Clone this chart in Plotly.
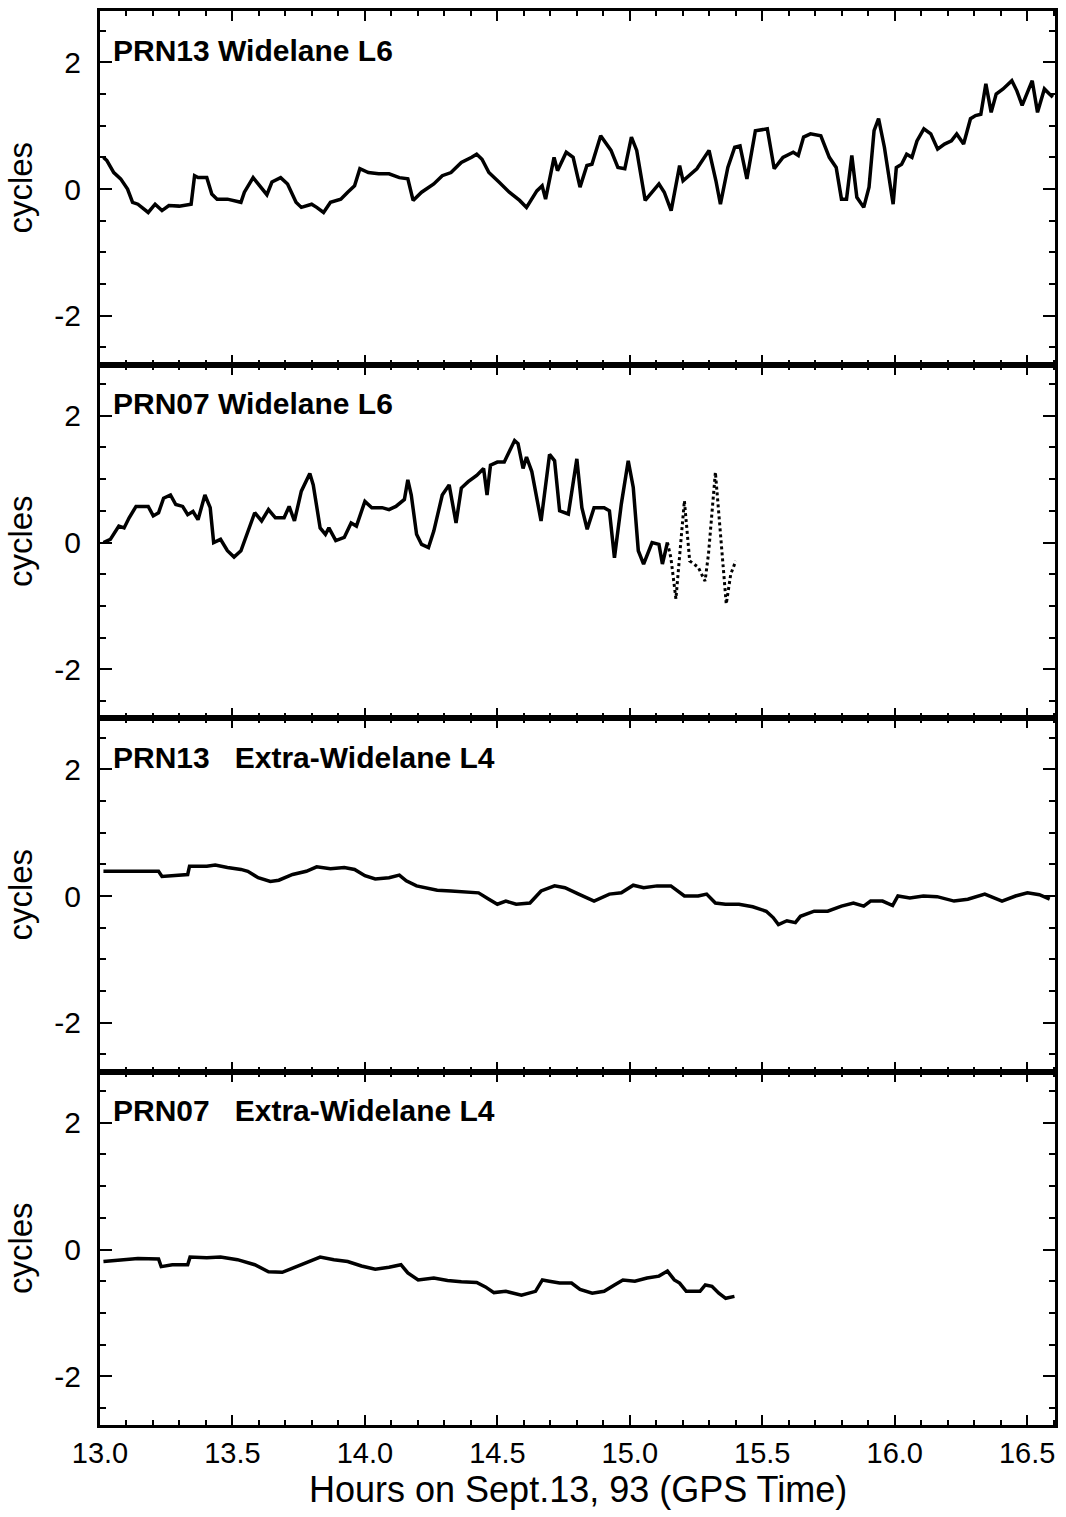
import plotly.graph_objects as go
from plotly.subplots import make_subplots

# Hours (GPS time) and residuals in cycles for each panel
t_prn13_l6 = [13.013, 13.026, 13.052, 13.078, 13.104, 13.123, 13.143, 13.182, 13.208, 13.234,
              13.260, 13.299, 13.344, 13.357, 13.370, 13.403, 13.422, 13.442, 13.481, 13.532,
              13.545, 13.578, 13.597, 13.630, 13.649, 13.682, 13.708, 13.740, 13.760, 13.799,
              13.818, 13.844, 13.870, 13.909, 13.935, 13.961, 13.981, 14.013, 14.052, 14.091,
              14.130, 14.162, 14.182, 14.214, 14.260, 14.292, 14.325, 14.364, 14.403, 14.422,
              14.442, 14.468, 14.506, 14.545, 14.584, 14.610, 14.649, 14.669, 14.682, 14.714,
              14.727, 14.760, 14.786, 14.812, 14.838, 14.857, 14.890, 14.929, 14.955, 14.981,
              15.006, 15.026, 15.058, 15.110, 15.130, 15.156, 15.188, 15.201, 15.253, 15.299,
              15.325, 15.342, 15.370, 15.396, 15.416, 15.442, 15.474, 15.506, 15.519, 15.545,
              15.578, 15.617, 15.636, 15.656, 15.682, 15.721, 15.753, 15.779, 15.799, 15.818,
              15.838, 15.857, 15.883, 15.903, 15.922, 15.939, 15.961, 15.994, 16.006, 16.026,
              16.045, 16.065, 16.084, 16.110, 16.136, 16.162, 16.188, 16.214, 16.234, 16.260,
              16.286, 16.305, 16.325, 16.344, 16.364, 16.383, 16.409, 16.442, 16.461, 16.481,
              16.500, 16.519, 16.539, 16.565, 16.584, 16.597]
v_prn13_l6 = [0.50, 0.45, 0.26, 0.16, 0.00, -0.21, -0.24, -0.37, -0.24, -0.34,
              -0.26, -0.27, -0.24, 0.21, 0.18, 0.18, -0.08, -0.16, -0.16, -0.21,
              -0.05, 0.18, 0.08, -0.09, 0.11, 0.18, 0.08, -0.21, -0.29, -0.24,
              -0.29, -0.37, -0.21, -0.16, -0.05, 0.05, 0.32, 0.26, 0.24, 0.24,
              0.18, 0.16, -0.18, -0.05, 0.08, 0.21, 0.26, 0.42, 0.50, 0.55,
              0.47, 0.26, 0.11, -0.05, -0.18, -0.29, -0.03, 0.05, -0.16, 0.50,
              0.29, 0.58, 0.50, 0.03, 0.37, 0.39, 0.84, 0.61, 0.34, 0.32,
              0.82, 0.61, -0.18, 0.08, -0.05, -0.34, 0.37, 0.13, 0.32, 0.61,
              0.13, -0.24, 0.34, 0.66, 0.68, 0.16, 0.92, 0.95, 0.95, 0.32,
              0.50, 0.58, 0.53, 0.82, 0.87, 0.84, 0.50, 0.34, -0.16, -0.16,
              0.53, -0.13, -0.29, 0.03, 0.92, 1.11, 0.66, -0.24, 0.34, 0.39,
              0.55, 0.50, 0.76, 0.95, 0.87, 0.63, 0.71, 0.76, 0.87, 0.71,
              1.11, 1.16, 1.18, 1.66, 1.21, 1.50, 1.58, 1.71, 1.55, 1.32,
              1.50, 1.71, 1.21, 1.58, 1.50, 1.45]

t_prn07_l6 = [13.013, 13.039, 13.071, 13.091, 13.110, 13.136, 13.182, 13.201, 13.221, 13.240,
              13.266, 13.286, 13.312, 13.331, 13.351, 13.370, 13.396, 13.416, 13.429, 13.455,
              13.481, 13.506, 13.532, 13.558, 13.584, 13.610, 13.636, 13.662, 13.695, 13.714,
              13.734, 13.760, 13.792, 13.805, 13.831, 13.851, 13.864, 13.890, 13.922, 13.948,
              13.968, 14.000, 14.026, 14.065, 14.091, 14.117, 14.149, 14.162, 14.175, 14.195,
              14.214, 14.240, 14.260, 14.292, 14.318, 14.344, 14.364, 14.390, 14.422, 14.448,
              14.461, 14.474, 14.500, 14.526, 14.545, 14.565, 14.578, 14.597, 14.610, 14.630,
              14.665, 14.697, 14.716, 14.735, 14.768, 14.800, 14.819, 14.839, 14.865, 14.903,
              14.923, 14.942, 14.968, 14.994, 15.013, 15.032, 15.052, 15.084, 15.110, 15.123,
              15.142, 15.155, 15.174, 15.194, 15.206, 15.226, 15.258, 15.284, 15.297, 15.323,
              15.348, 15.364, 15.381, 15.400]
v_prn07_l6 = [0.00, 0.05, 0.26, 0.23, 0.39, 0.57, 0.57, 0.42, 0.47, 0.70,
              0.75, 0.60, 0.57, 0.44, 0.49, 0.36, 0.75, 0.55, 0.00, 0.05,
              -0.13, -0.23, -0.13, 0.18, 0.47, 0.34, 0.52, 0.39, 0.39, 0.57,
              0.34, 0.81, 1.09, 0.91, 0.23, 0.13, 0.23, 0.03, 0.08, 0.31,
              0.26, 0.65, 0.55, 0.55, 0.52, 0.57, 0.68, 0.99, 0.75, 0.13,
              -0.03, -0.08, 0.18, 0.75, 0.91, 0.31, 0.86, 0.96, 1.06, 1.17,
              0.75, 1.22, 1.27, 1.27, 1.43, 1.61, 1.56, 1.17, 1.35, 1.12,
              0.34, 1.39, 1.29, 0.50, 0.45, 1.32, 0.55, 0.21, 0.55, 0.55,
              0.50, -0.24, 0.61, 1.29, 0.87, -0.13, -0.34, 0.00, -0.03, -0.34,
              0.00, -0.24, -0.89, 0.03, 0.66, -0.29, -0.39, -0.61, -0.18, 1.11,
              -0.08, -0.97, -0.50, -0.29]

t_prn13_l4 = [13.013, 13.065, 13.143, 13.221, 13.234, 13.273, 13.331, 13.338, 13.403, 13.435,
              13.481, 13.532, 13.558, 13.597, 13.643, 13.675, 13.727, 13.779, 13.818, 13.870,
              13.922, 13.961, 14.000, 14.039, 14.091, 14.130, 14.156, 14.195, 14.234, 14.273,
              14.325, 14.377, 14.429, 14.468, 14.500, 14.532, 14.571, 14.623, 14.665, 14.716,
              14.755, 14.807, 14.865, 14.923, 14.968, 15.013, 15.052, 15.103, 15.155, 15.206,
              15.258, 15.290, 15.323, 15.361, 15.412, 15.464, 15.515, 15.541, 15.561, 15.593,
              15.625, 15.644, 15.696, 15.747, 15.799, 15.844, 15.883, 15.909, 15.954, 15.992,
              16.012, 16.057, 16.108, 16.160, 16.224, 16.276, 16.340, 16.405, 16.456, 16.501,
              16.546, 16.585]
v_prn13_l4 = [0.39, 0.39, 0.39, 0.39, 0.31, 0.32, 0.34, 0.47, 0.47, 0.49,
              0.45, 0.42, 0.39, 0.29, 0.23, 0.25, 0.34, 0.39, 0.46, 0.43,
              0.45, 0.42, 0.32, 0.27, 0.29, 0.33, 0.24, 0.16, 0.13, 0.09,
              0.08, 0.07, 0.05, -0.05, -0.13, -0.08, -0.13, -0.11, 0.08, 0.16,
              0.13, 0.03, -0.08, 0.03, 0.05, 0.17, 0.13, 0.16, 0.16, 0.00,
              0.00, 0.03, -0.11, -0.13, -0.13, -0.17, -0.24, -0.34, -0.45, -0.39,
              -0.42, -0.32, -0.24, -0.24, -0.16, -0.11, -0.16, -0.08, -0.08, -0.15,
              0.00, -0.03, 0.00, -0.01, -0.08, -0.05, 0.03, -0.08, 0.00, 0.05,
              0.02, -0.05]

t_prn07_l4 = [13.013, 13.078, 13.143, 13.221, 13.231, 13.273, 13.331, 13.340, 13.403, 13.455,
              13.519, 13.584, 13.636, 13.688, 13.740, 13.792, 13.831, 13.883, 13.935, 13.987,
              14.039, 14.091, 14.136, 14.162, 14.201, 14.260, 14.312, 14.364, 14.422, 14.455,
              14.487, 14.532, 14.591, 14.644, 14.670, 14.696, 14.735, 14.780, 14.812, 14.858,
              14.903, 14.942, 14.974, 15.019, 15.065, 15.110, 15.142, 15.168, 15.188, 15.213,
              15.265, 15.285, 15.310, 15.336, 15.362, 15.395]
v_prn07_l4 = [-0.19, -0.16, -0.14, -0.15, -0.27, -0.24, -0.24, -0.12, -0.13, -0.12,
              -0.16, -0.24, -0.35, -0.36, -0.27, -0.19, -0.12, -0.16, -0.19, -0.26,
              -0.31, -0.28, -0.24, -0.37, -0.48, -0.45, -0.49, -0.51, -0.52, -0.59,
              -0.68, -0.66, -0.72, -0.66, -0.48, -0.50, -0.53, -0.53, -0.63, -0.69,
              -0.66, -0.56, -0.48, -0.50, -0.45, -0.42, -0.34, -0.48, -0.53, -0.66,
              -0.66, -0.56, -0.58, -0.69, -0.77, -0.74]

panel_titles = ["PRN13 Widelane L6", "PRN07 Widelane L6",
                "PRN13\u00a0\u00a0\u00a0Extra-Widelane L4", "PRN07\u00a0\u00a0\u00a0Extra-Widelane L4"]
x_title = "Hours on Sept.13, 93 (GPS Time)"
x_ticks = [13.0, 13.5, 14.0, 14.5, 15.0, 15.5, 16.0, 16.5]
y_ticks = [-2, 0, 2]

FONT = "Liberation Sans, Arial, Helvetica, sans-serif"
INK = "black"

fig = make_subplots(rows=4, cols=1, shared_xaxes=True, vertical_spacing=0)

line_style = dict(color=INK, width=3.5)

fig.add_trace(go.Scatter(x=t_prn13_l6, y=v_prn13_l6, mode="lines", line=line_style), row=1, col=1)

# PRN07 L6: densely sampled part, then the sparser tail drawn dotted
split = t_prn07_l6.index(15.142) + 1
fig.add_trace(go.Scatter(x=t_prn07_l6[:split], y=v_prn07_l6[:split], mode="lines", line=line_style),
              row=2, col=1)
fig.add_trace(go.Scatter(x=t_prn07_l6[split - 1:], y=v_prn07_l6[split - 1:], mode="lines",
                         line=dict(color=INK, width=3, dash="dot")), row=2, col=1)

fig.add_trace(go.Scatter(x=t_prn13_l4, y=v_prn13_l4, mode="lines", line=line_style), row=3, col=1)
fig.add_trace(go.Scatter(x=t_prn07_l4, y=v_prn07_l4, mode="lines", line=line_style), row=4, col=1)

for r in range(1, 5):
    fig.update_xaxes(
        row=r, col=1,
        range=[13.0, 16.605], tickvals=x_ticks, ticktext=[f"{v:.1f}" for v in x_ticks],
        ticks="inside", ticklen=10, tickwidth=2, tickcolor=INK,
        minor=dict(dtick=0.1, tick0=13.0, ticks="inside", ticklen=5, tickwidth=1.5, tickcolor=INK),
        showline=True, linecolor=INK, linewidth=3, mirror="allticks",
        showgrid=False, zeroline=False,
        tickfont=dict(family=FONT, size=29, color=INK),
        ticklabelstandoff=0,
    )
    fig.update_yaxes(
        row=r, col=1,
        range=[-2.77, 2.81], tickvals=y_ticks, ticktext=[str(v) for v in y_ticks],
        ticks="inside", ticklen=12, tickwidth=2, tickcolor=INK,
        minor=dict(dtick=0.5, tick0=0, ticks="inside", ticklen=6, tickwidth=1.5, tickcolor=INK),
        showline=True, linecolor=INK, linewidth=3, mirror="allticks",
        showgrid=False, zeroline=False,
        tickfont=dict(family=FONT, size=30, color=INK),
        ticklabelstandoff=10,
        title=dict(text="cycles", font=dict(family=FONT, size=33, color=INK), standoff=12),
    )
    yref = "y" if r == 1 else f"y{r}"
    xref = "x" if r == 1 else f"x{r}"
    fig.add_annotation(
        x=13.04, y=1.9, xref=xref, yref=yref, xanchor="left", yanchor="bottom",
        text=f"<b>{panel_titles[r - 1]}</b>", showarrow=False,
        font=dict(family=FONT, size=30, color=INK),
    )

fig.update_xaxes(row=4, col=1, showticklabels=True)

# Shared x-axis title under the bottom panel
fig.add_annotation(
    x=0.5, y=0, xref="paper", yref="paper", xanchor="center", yanchor="middle",
    yshift=-64, text=x_title, showarrow=False,
    font=dict(family=FONT, size=36, color=INK),
)

fig.update_layout(
    width=1066, height=1517,
    margin=dict(l=100, r=11, t=8, b=92),
    paper_bgcolor="white", plot_bgcolor="white",
    showlegend=False,
    font=dict(family=FONT, color=INK),
)

fig.write_html("out.html")
